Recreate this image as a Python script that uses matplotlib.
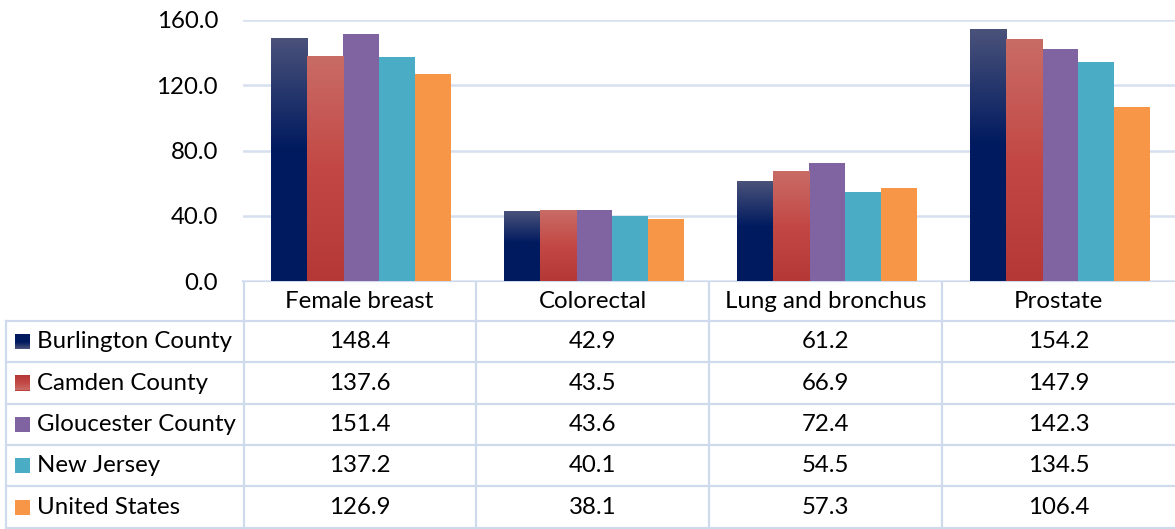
import numpy as np
import matplotlib
matplotlib.use("Agg")
import matplotlib.pyplot as plt
from matplotlib.colors import LinearSegmentedColormap
from matplotlib import transforms

categories = ["Female breast", "Colorectal", "Lung and bronchus", "Prostate"]
series_names = ["Burlington County", "Camden County", "Gloucester County", "New Jersey", "United States"]
burlington = [148.4, 42.9, 61.2, 154.2]
camden = [137.6, 43.5, 66.9, 147.9]
gloucester = [151.4, 43.6, 72.4, 142.3]
new_jersey = [137.2, 40.1, 54.5, 134.5]
united_states = [126.9, 38.1, 57.3, 106.4]
yticks = [0, 40, 80, 120, 160]

series_values = [burlington, camden, gloucester, new_jersey, united_states]
colors = ["#001a5f", "#c0403d", "#8064a2", "#4bacc6", "#f79646"]
gradients = {
    0: LinearSegmentedColormap.from_list("g0", [(0, "#001a5f"), (0.54, "#001a5f"), (1.0, "#4a527a")]),
    1: LinearSegmentedColormap.from_list("g1", [(0, "#b53836"), (0.5, "#c34845"), (1.0, "#c96c66")]),
}

plt.rcParams['font.family'] = ['Lato', 'DejaVu Sans']
W, H = 1175, 529
fig = plt.figure(figsize=(W / 100, H / 100), dpi=100)
ax_left, ax_right, ax_top, ax_bottom = 243, 1175, 20, 281
ax = fig.add_axes([ax_left / W, 1 - ax_bottom / H, (ax_right - ax_left) / W, (ax_bottom - ax_top) / H])

n = len(series_names)
x = np.arange(len(categories))
bw = 0.155
grid_c = "#d6e0ef"
for i, vals in enumerate(series_values):
    pos = x + (i - (n - 1) / 2) * bw + 0.006
    bars = ax.bar(pos, vals, width=bw, color=colors[i], zorder=3, edgecolor="none")
    if i in gradients:
        grad = np.linspace(0, 1, 256).reshape(-1, 1)
        for b in bars:
            x0, w_, h_ = b.get_x(), b.get_width(), b.get_height()
            ax.imshow(grad, cmap=gradients[i], origin="lower", aspect="auto",
                      extent=[x0, x0 + w_, 0, h_], zorder=4)

fs = 17.3
ax.set_xlim(-0.5, len(categories) - 0.5)
ax.set_ylim(0, 160)
ax.set_yticks(yticks)
ax.set_yticklabels([f"{v:.1f}" for v in yticks], fontsize=fs, color="#000000")
ax.tick_params(axis="y", length=0, pad=18)
ax.set_xticks([])
for s in ax.spines.values():
    s.set_visible(False)
ax.grid(axis="y", color=grid_c, linewidth=1.8, zorder=0)
ax.set_axisbelow(True)

# overlay for data table
ov = fig.add_axes([0, 0, 1, 1], zorder=-1)
ov.set_xlim(0, W)
ov.set_ylim(H, 0)
ov.axis("off")
bt = transforms.blended_transform_factory(ax.transData, ov.transData)

row_edges = [281, 321, 362, 404, 445, 486, 528]
lc = "#cfdbed"
lw = 1.6
ov.plot([ax_left, W], [row_edges[0], row_edges[0]], color=lc, lw=lw)
for yy in row_edges[1:]:
    ov.plot([6, W], [yy, yy], color=lc, lw=lw)
ov.plot([ax_left + 1, ax_left + 1], [row_edges[0], row_edges[-1]], color=lc, lw=lw)
ov.plot([6, 6], [row_edges[1], row_edges[-1]], color=lc, lw=lw)
for k in range(1, len(categories)):
    ov.plot([k - 0.5, k - 0.5], [row_edges[0], row_edges[-1]], color=lc, lw=lw, transform=bt)

hy = (row_edges[0] + row_edges[1]) / 2
for j, c in enumerate(categories):
    ov.text(j, hy, c, transform=bt, ha="center", va="center", fontsize=fs)
for i, name in enumerate(series_names):
    yc = (row_edges[i + 1] + row_edges[i + 2]) / 2
    ov.add_patch(plt.Rectangle((15, yc - 7.5), 15, 15, color=colors[i], lw=0))
    if i in gradients:
        grad = np.linspace(0, 1, 64).reshape(-1, 1)
        ov.imshow(grad, cmap=gradients[i], origin="upper", aspect="auto",
                  extent=[15, 30, yc + 7.5, yc - 7.5], zorder=3)
    ov.text(37, yc, name, ha="left", va="center", fontsize=fs)
    for j, v in enumerate(series_values[i]):
        ov.text(j, yc, f"{v:.1f}", transform=bt, ha="center", va="center", fontsize=fs)
ov.set_xlim(0, W)
ov.set_ylim(H, 0)

fig.savefig("out.png", dpi=100)
